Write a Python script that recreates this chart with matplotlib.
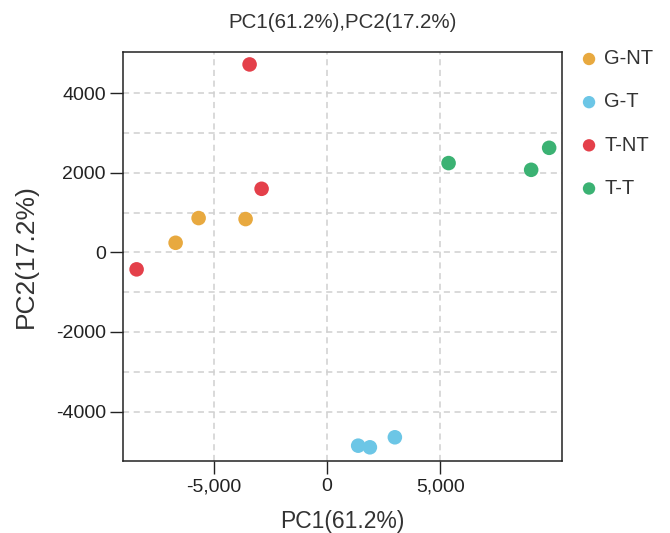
import matplotlib
matplotlib.use("Agg")
import matplotlib.pyplot as plt

plt.rcParams['font.family'] = ['Liberation Sans', 'DejaVu Sans']

groups = ["G-NT", "G-T", "T-NT", "T-T"]
colors = ["#E8A93F", "#6CC6E6", "#E4404A", "#3BB273"]
pc1 = {
    "G-NT": [-6690, -5675, -3601],
    "G-T": [1368, 1884, 2987],
    "T-NT": [-3425, -2895, -8412],
    "T-T": [5358, 9003, 9797],
}
pc2 = {
    "G-NT": [241, 862, 837],
    "G-T": [-4859, -4900, -4648],
    "T-NT": [4724, 1598, -427],
    "T-T": [2244, 2075, 2628],
}
x_ticks = [-5000, 0, 5000]
x_ticklabels = ["-5,000", "0", "5,000"]
y_ticks = [-4000, -2000, 0, 2000, 4000]
y_ticklabels = ["-4000", "-2000", "0", "2000", "4000"]
y_grid = [-4000, -3000, -2000, -1000, 0, 1000, 2000, 3000, 4000]

fig = plt.figure(figsize=(6.7, 5.33), dpi=100)
ax = fig.add_axes([0.184, 0.1357, 0.655, 0.767])

for g, c in zip(groups, colors):
    ax.scatter(pc1[g], pc2[g], s=110, color=c, label=g, edgecolors='none', zorder=3)

ax.set_xlim(-9000, 10370)
ax.set_ylim(-5236, 5040)

for yv in y_grid:
    ax.axhline(yv, color="#d0d0d0", linestyle=(0, (4, 3)), linewidth=1.1, zorder=1)
for xv in x_ticks:
    ax.axvline(xv, color="#d0d0d0", linestyle=(0, (4, 3)), linewidth=1.1, zorder=1)

ax.set_xticks(x_ticks)
ax.set_xticklabels(x_ticklabels)
ax.set_yticks(y_ticks)
ax.set_yticklabels(y_ticklabels)
ax.tick_params(axis='both', direction='out', length=9.5, width=1, color='#222222',
               labelsize=14, labelcolor='#222222', pad=3)

for sp in ax.spines.values():
    sp.set_color('#222222')
    sp.set_linewidth(1.1)

ax.set_xlabel("PC1(61.2%)", fontsize=16.5, color='#333333', labelpad=11)
ax.set_ylabel("PC2(17.2%)", fontsize=19, color='#333333', labelpad=13)
ax.set_title("PC1(61.2%),PC2(17.2%)", fontsize=14.8, color='#333333', pad=17)

leg = ax.legend(loc='upper left', bbox_to_anchor=(1.02, 1.026), frameon=False,
                fontsize=14.5, labelspacing=1.2, handletextpad=0.25,
                markerscale=0.85, handlelength=1.0, borderaxespad=0)
for t in leg.get_texts():
    t.set_color('#333333')

fig.savefig("out.png", dpi=100)
